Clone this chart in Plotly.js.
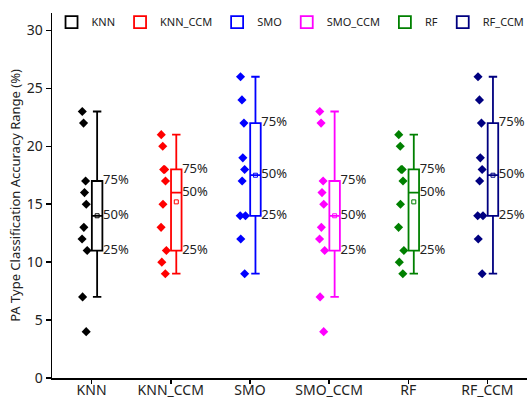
<!DOCTYPE html>
<html><head><meta charset="utf-8">
<script src="https://cdn.plot.ly/plotly-3.0.1.min.js"></script>
<style>html,body{margin:0;padding:0;background:#fff}#chart{width:527px;height:398px}</style>
</head><body><div id="chart"></div>
<script>
// ---- data ----
const categories = ['KNN', 'KNN_CCM', 'SMO', 'SMO_CCM', 'RF', 'RF_CCM'];
const knnPoints    = [23, 22, 17, 16, 15, 13, 12, 11, 7, 4];
const knnCcmPoints = [21, 20, 18, 18, 17, 15, 13, 11, 10, 9];
const smoPoints    = [26, 24, 22, 19, 18, 17, 14, 14, 12, 9];
const smoCcmPoints = [23, 22, 17, 16, 15, 13, 12, 11, 7, 4];
const rfPoints     = [21, 20, 18, 18, 17, 15, 13, 11, 10, 9];
const rfCcmPoints  = [26, 24, 22, 19, 18, 17, 14, 14, 12, 9];
const q1Values      = [11, 11, 14, 11, 11, 14];
const medianValues  = [14, 16, 17.5, 14, 16, 17.5];
const q3Values      = [17, 18, 22, 17, 18, 22];
const lowerWhiskers = [7, 9, 9, 7, 9, 9];
const upperWhiskers = [23, 21, 26, 23, 21, 26];
const meanValues    = [14, 15.2, 17.5, 14, 15.2, 17.5];
const quartileLabels = ['75%', '50%', '25%'];
const yTickValues = [0, 5, 10, 15, 20, 25, 30];

// ---- style ----
const colors = ['#000000', '#FF0000', '#0000FF', '#FF00FF', '#008000', '#000080'];
const FONT = '"Noto Sans", "Open Sans", sans-serif';
const BOX_SHIFT = 0.07;   // box drawn right of the category centre
const BOX_WIDTH = 0.133;
const POINTS_WIDTH = 0.158; // invisible carrier box for the sample points
const LABEL_GAP = 0.008;

const samples = [knnPoints, knnCcmPoints, smoPoints, smoCcmPoints, rfPoints, rfCcmPoints];
const catIndex = categories.map((c, i) => i);
const boxPos = catIndex.map(i => i + BOX_SHIFT);

const traces = [];
// boxes with pre-computed statistics (these carry the legend)
categories.forEach((name, i) => {
  traces.push({
    type: 'box', name: name, x: [boxPos[i]],
    q1: [q1Values[i]], median: [medianValues[i]], q3: [q3Values[i]],
    lowerfence: [lowerWhiskers[i]], upperfence: [upperWhiskers[i]],
    width: BOX_WIDTH, whiskerwidth: 0.8, boxpoints: false,
    line: {color: colors[i], width: 1.8}, fillcolor: 'rgba(255,255,255,0)',
    hoverinfo: 'skip', showlegend: true
  });
});
// sample points drawn by the library (jittered, to the left of each box)
categories.forEach((name, i) => {
  traces.push({
    type: 'box', name: name + ' pts', x0: boxPos[i], y: samples[i],
    width: POINTS_WIDTH, boxpoints: 'all', jitter: 0.55, pointpos: -2,
    line: {color: 'rgba(0,0,0,0)', width: 0}, fillcolor: 'rgba(0,0,0,0)',
    marker: {symbol: 'diamond', size: 7, color: colors[i]},
    hoverinfo: 'skip', showlegend: false
  });
});
// mean markers
traces.push({
  type: 'scatter', mode: 'markers', x: boxPos, y: meanValues,
  marker: {symbol: 'square-open', size: 4, color: colors, line: {width: 1, color: colors}},
  hoverinfo: 'skip', showlegend: false
});
// quartile labels
const lx = [], ly = [], lt = [];
catIndex.forEach(i => {
  [q3Values[i], medianValues[i], q1Values[i]].forEach((v, k) => {
    lx.push(boxPos[i] + BOX_WIDTH / 2 + LABEL_GAP); ly.push(v); lt.push(quartileLabels[k]);
  });
});
traces.push({
  type: 'scatter', mode: 'text', x: lx, y: ly, text: lt,
  textposition: 'middle right', marker: {size: 1},
  textfont: {family: FONT, size: 13, color: '#222222'},
  hoverinfo: 'skip', showlegend: false
});

const layout = {
  width: 527, height: 398,
  margin: {l: 52, r: 0, t: 13, b: 20, autoexpand: false},
  paper_bgcolor: '#ffffff', plot_bgcolor: '#ffffff',
  font: {family: FONT, color: '#222222'},
  boxmode: 'overlay',
  xaxis: {
    type: 'linear', range: [-0.5, 5.5], tickvals: catIndex, ticktext: categories,
    showgrid: false, zeroline: false, showline: true, linecolor: '#000', linewidth: 1.5,
    ticks: 'outside', ticklen: 4, tickwidth: 1.5, tickcolor: '#000', ticklabelstandoff: -5,
    tickfont: {family: FONT, size: 14, color: '#222222'}, automargin: false, fixedrange: true
  },
  yaxis: {
    range: [0, 31.5], tickvals: yTickValues,
    showgrid: false, zeroline: false, showline: true, linecolor: '#000', linewidth: 1.5,
    ticks: 'outside', ticklen: 5, tickwidth: 1.5, tickcolor: '#000',
    tickfont: {family: FONT, size: 14, color: '#222222'}, automargin: false,
    title: {text: 'PA Type Classification Accuracy Range (%)', font: {family: FONT, size: 13, color: '#222222'}, standoff: 3}
  },
  legend: {
    orientation: 'h', x: -0.001, xanchor: 'left', y: 1.015, yanchor: 'top',
    font: {family: FONT, size: 11, color: '#222222'}, bgcolor: 'rgba(0,0,0,0)',
    itemclick: false, itemdoubleclick: false
  },
  showlegend: true
};

Plotly.newPlot('chart', traces, layout, {displayModeBar: false, staticPlot: true});
</script>
</body></html>
